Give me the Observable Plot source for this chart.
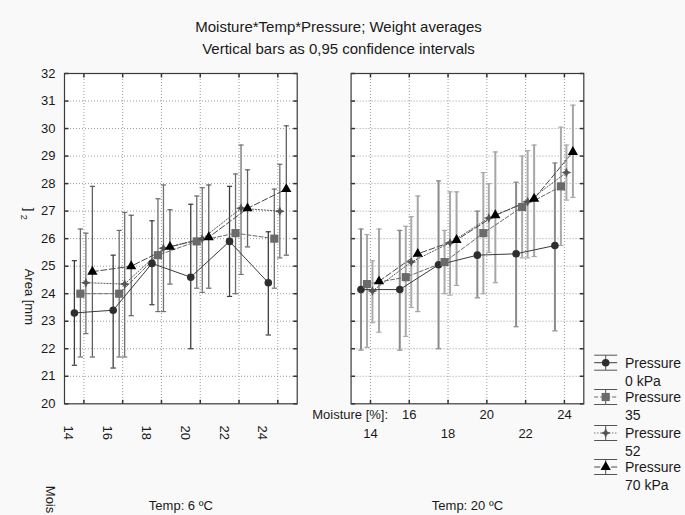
<!DOCTYPE html>
<html><head><meta charset="utf-8">
<script src="https://cdn.jsdelivr.net/npm/d3@7"></script>
<script src="https://cdn.jsdelivr.net/npm/@observablehq/plot@0.6"></script>
<style>
body{margin:0;background:#f9f9f9;font-family:"Liberation Sans",Arial,sans-serif;color:#1a1a1a}
#wrap{position:relative;width:685px;height:515px;overflow:hidden}
#chart{position:absolute;left:0;top:0}
#title{position:absolute;left:-4px;top:16px;width:685px;text-align:center;font-size:15px;line-height:22px}
#legend{position:absolute;left:586px;top:348px}
</style></head><body>
<div id="wrap"><div id="chart"></div>
<div id="title">Moisture*Temp*Pressure; Weight averages<br>Vertical bars as 0,95 confidence intervals</div>
<div id="legend"></div></div>
<script>
// ---------- data ----------
const temps = ["6", "20"];
const moisture = [14, 16, 18, 20, 22, 24];
const pressures = ["0 kPa", "35", "52", "70 kPa"];
const yTicks = [20, 21, 22, 23, 24, 25, 26, 27, 28, 29, 30, 31, 32];

// Temp 6 °C : rows = pressures (0, 35, 52, 70), columns = moisture levels
const mean6 = [
  [23.3, 23.4, 25.1, 24.6, 25.9, 24.4],
  [24.0, 24.0, 25.4, 25.9, 26.2, 26.0],
  [24.4, 24.35, 25.65, 26.0, 27.1, 27.0],
  [24.8, 25.0, 25.7, 26.05, 27.1, 27.8]
];
const low6 = [
  [21.4, 21.3, 23.6, 22.0, 23.9, 22.5],
  [21.7, 21.7, 23.35, 24.2, 24.0, 24.2],
  [22.55, 21.7, 23.35, 24.05, 24.7, 25.3],
  [21.7, 23.2, 24.35, 24.2, 25.7, 25.4]
];
const high6 = [
  [25.2, 25.4, 26.65, 27.25, 27.9, 26.25],
  [26.35, 26.3, 27.45, 27.55, 28.35, 27.8],
  [26.2, 26.95, 27.95, 27.85, 29.4, 28.7],
  [27.9, 26.85, 27.05, 27.95, 28.5, 30.1]
];
// Temp 20 °C
const mean20 = [
  [24.15, 24.15, 25.05, 25.4, 25.45, 25.75],
  [24.35, 24.6, 25.15, 26.2, 27.15, 27.9],
  [24.1, 25.15, 25.85, 26.75, 27.35, 28.4],
  [24.45, 25.45, 25.95, 26.85, 27.45, 29.15]
];
const low20 = [
  [21.95, 21.95, 22.0, 23.85, 22.8, 22.65],
  [22.05, 22.45, 24.0, 24.0, 25.3, 25.75],
  [22.95, 23.5, 23.95, 25.5, 25.3, 27.4],
  [22.6, 23.35, 24.3, 24.4, 25.35, 27.5]
];
const high20 = [
  [26.35, 26.3, 28.1, 27.0, 28.05, 28.75],
  [26.15, 26.45, 26.3, 28.4, 29.0, 30.05],
  [25.2, 26.8, 27.7, 28.0, 29.2, 29.4],
  [26.35, 27.55, 27.7, 29.15, 29.4, 30.85]
];

// ---------- table ----------
const sets = {"6": [mean6, low6, high6], "20": [mean20, low20, high20]};
const rows = [];
for (const t of temps) {
  const [m, lo, hi] = sets[t];
  pressures.forEach((p, pi) => moisture.forEach((mo, i) => {
    rows.push({temp: t, pressure: p, moisture: mo, mean: m[pi][i], lo: lo[pi][i], hi: hi[pi][i]});
  }));
}

// ---------- symbols ----------
const star4 = {draw(ctx, size) {
  const r = Math.sqrt(size / Math.PI), i = r * 0.3;
  ctx.moveTo(0, -r); ctx.lineTo(i, -i); ctx.lineTo(r, 0); ctx.lineTo(i, i);
  ctx.lineTo(0, r); ctx.lineTo(-i, i); ctx.lineTo(-r, 0); ctx.lineTo(-i, -i); ctx.closePath();
}};
const cap = {draw(ctx, size) { const r = Math.sqrt(size / Math.PI); ctx.moveTo(-r, 0); ctx.lineTo(r, 0); }};
const tickUp = {draw(ctx) { ctx.moveTo(0, 0); ctx.lineTo(0, -4); }};
const tickDown = {draw(ctx) { ctx.moveTo(0, 0); ctx.lineTo(0, 4); }};
const tickRight = {draw(ctx) { ctx.moveTo(0, 0); ctx.lineTo(4, 0); }};
const tickLeft = {draw(ctx) { ctx.moveTo(0, 0); ctx.lineTo(-4, 0); }};

const series = [
  {p: "0 kPa", dx: -9.5, symbol: "circle", r: 3.8, fill: "#2e2e2e", line: "#3a3a3a", dash: null, bar: {"6": "#3c3c3c", "20": "#8a8a8a"}},
  {p: "35", dx: -3.5, symbol: "square", r: 4.6, fill: "#6a6a6a", line: "#6a6a6a", dash: "4,2", bar: {"6": "#6e6e6e", "20": "#ababab"}},
  {p: "52", dx: 2, symbol: star4, r: 5, fill: "#555555", line: "#5a5a5a", dash: "1.2,1.8", bar: {"6": "#727272", "20": "#ababab"}},
  {p: "70 kPa", dx: 8.5, symbol: "triangle", r: 3.8, fill: "#000000", line: "#4a4a4a", dash: "6,2.5", bar: {"6": "#606060", "20": "#a6a6a6"}}
];
const barW = {"6": 1.3, "20": 2};

const marks = [
  Plot.frame({fill: "white", stroke: null}),
  Plot.gridX(moisture, {stroke: "#9a9a9a", strokeOpacity: 1, strokeDasharray: "1,2"}),
  Plot.gridY(yTicks.slice(1, -1), {stroke: "#9a9a9a", strokeOpacity: 1, strokeDasharray: "1,2"}),
  Plot.dot(moisture, {x: d => d, frameAnchor: "bottom", symbol: tickUp, stroke: "#333", fill: "none", r: 3}),
  Plot.dot(moisture, {x: d => d, frameAnchor: "top", symbol: tickDown, stroke: "#333", fill: "none", r: 3}),
  Plot.dot(yTicks, {y: d => d, frameAnchor: "left", symbol: tickRight, stroke: "#333", fill: "none", r: 3}),
  Plot.dot(yTicks, {y: d => d, frameAnchor: "right", symbol: tickLeft, stroke: "#333", fill: "none", r: 3})
];

for (const t of temps) {
  for (const s of series) {
    const data = rows.filter(d => d.temp === t && d.pressure === s.p);
    marks.push(
      Plot.ruleX(data, {fx: "temp", x: "moisture", y1: "lo", y2: "hi", dx: s.dx, stroke: s.bar[t], strokeWidth: barW[t]}),
      Plot.dot(data, {fx: "temp", x: "moisture", y: "lo", dx: s.dx, symbol: cap, r: 2.6, fill: "none", stroke: s.bar[t], strokeWidth: 1.2}),
      Plot.dot(data, {fx: "temp", x: "moisture", y: "hi", dx: s.dx, symbol: cap, r: 2.6, fill: "none", stroke: s.bar[t], strokeWidth: 1.2})
    );
  }
}
for (const s of series) {
  const data = rows.filter(d => d.pressure === s.p);
  marks.push(Plot.line(data, {fx: "temp", x: "moisture", y: "mean", z: "temp", dx: s.dx, stroke: s.line, strokeWidth: 1, strokeDasharray: s.dash}));
}
for (const s of series) {
  const data = rows.filter(d => d.pressure === s.p);
  marks.push(Plot.dot(data, {fx: "temp", x: "moisture", y: "mean", dx: s.dx, symbol: s.symbol, r: s.r, fill: s.fill, stroke: "none"}));
}

const leftTicks = moisture.map(m => ({temp: "6", m}));
const rightTicks = moisture.map(m => ({temp: "20", m}));
marks.push(
  Plot.frame({stroke: "#3a3a3a", strokeWidth: 1.2}),
  Plot.axisY(yTicks, {tickSize: 0, tickPadding: 9, fontSize: 13, label: null, fill: "#1a1a1a"}),
  Plot.text(leftTicks, {fx: "temp", x: "m", text: d => String(d.m), rotate: 90, frameAnchor: "bottom", dy: 29, dx: -19.5, fontSize: 13, fill: "#1a1a1a"}),
  Plot.text(rightTicks.filter((d, i) => i % 2 === 1), {fx: "temp", x: "m", text: d => String(d.m), frameAnchor: "bottom", dy: 15, fontSize: 13, fill: "#1a1a1a"}),
  Plot.text(rightTicks.filter((d, i) => i % 2 === 0), {fx: "temp", x: "m", text: d => String(d.m), frameAnchor: "bottom", dy: 34, fontSize: 13, fill: "#1a1a1a"}),
  Plot.text([{temp: "20"}], {fx: "temp", text: () => "Moisture [%]:", frameAnchor: "bottom-left", textAnchor: "end", dx: 37, dy: 15, fontSize: 13, fill: "#1a1a1a"}),
  Plot.text([{temp: "6"}], {fx: "temp", text: () => "Mois", frameAnchor: "bottom-left", textAnchor: "start", rotate: 90, dx: -19, dy: 82, fontSize: 13, fill: "#1a1a1a"}),
  Plot.text(temps, {fx: d => d, text: d => `Temp: ${d} ºC`, frameAnchor: "bottom", dy: 106, fontSize: 13, fill: "#1a1a1a"}),
  Plot.text([{temp: "6"}], {fx: "temp", text: () => "Area [mm", frameAnchor: "left", textAnchor: "start", rotate: 90, dx: -35, dy: 30, fontSize: 13, fill: "#1a1a1a"}),
  Plot.text([{temp: "6"}], {fx: "temp", text: () => "]", frameAnchor: "left", rotate: 90, dx: -35, dy: -31, fontSize: 13, fill: "#1a1a1a"}),
  Plot.text([{temp: "6"}], {fx: "temp", text: () => "2", frameAnchor: "left", rotate: 90, dx: -41, dy: -24, fontSize: 9, fill: "#1a1a1a"})
);

const chart = Plot.plot({
  width: 685, height: 515,
  marginLeft: 64, marginRight: 101.7, marginTop: 73, marginBottom: 111.7,
  style: {background: "transparent", fontFamily: "Liberation Sans, Arial, sans-serif", overflow: "visible"},
  fx: {domain: temps, paddingInner: 0.188, paddingOuter: 0, round: false, axis: null},
  x: {domain: [13, 25], axis: null},
  y: {domain: [20, 32], axis: null},
  marks
});
document.getElementById("chart").appendChild(chart);

// ---------- legend ----------
const lg = d3.select("#legend").append("svg").attr("width", 99).attr("height", 150)
  .style("font-family", "Liberation Sans, Arial, sans-serif").style("font-size", "14px");
const ly = [14.7, 49, 85, 119];
const labels2 = ["0 kPa", "35", "52", "70 kPa"];
series.forEach((s, i) => {
  const g = lg.append("g").attr("transform", `translate(19.7,${ly[i]})`);
  g.append("line").attr("x1", -11.5).attr("x2", 11.5).attr("stroke", s.line).attr("stroke-dasharray", s.dash);
  g.append("line").attr("y1", -7.5).attr("y2", 7.5).attr("stroke", "#555");
  g.append("line").attr("x1", -11.5).attr("x2", 11.5).attr("y1", -7.5).attr("y2", -7.5).attr("stroke", "#555");
  g.append("line").attr("x1", -11.5).attr("x2", 11.5).attr("y1", 7.5).attr("y2", 7.5).attr("stroke", "#555");
  const sym = s.symbol === "circle" ? d3.symbolCircle : s.symbol === "square" ? d3.symbolSquare : s.symbol === "triangle" ? d3.symbolTriangle : s.symbol;
  g.append("path").attr("d", d3.symbol(sym, s.r * s.r * Math.PI)()).attr("fill", s.fill);
  lg.append("text").attr("x", 39).attr("y", ly[i]).attr("dy", "0.35em").attr("fill", "#1a1a1a").text("Pressure");
  lg.append("text").attr("x", 39).attr("y", ly[i] + 18.5).attr("dy", "0.35em").attr("fill", "#1a1a1a").text(labels2[i]);
});
</script></body></html>
